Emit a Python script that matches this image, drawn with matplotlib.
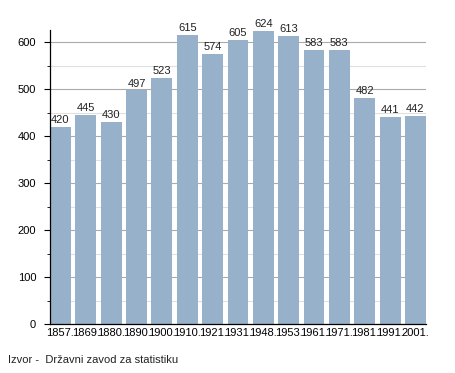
import matplotlib.pyplot as plt
from matplotlib.ticker import MultipleLocator

plt.rcParams['font.family'] = ['Liberation Sans', 'DejaVu Sans']

years = ["1857.", "1869.", "1880.", "1890.", "1900.", "1910.", "1921.", "1931.",
         "1948.", "1953.", "1961.", "1971.", "1981.", "1991.", "2001."]
population = [420, 445, 430, 497, 523, 615, 574, 605, 624, 613, 583, 583, 482, 441, 442]
source_text = "Izvor -  Državni zavod za statistiku"

fig = plt.figure(figsize=(4.55, 3.73), dpi=100)
ax = fig.add_axes([0.110, 0.131, 0.826, 0.789])

x = range(len(years))
ax.bar(x, population, width=0.82, color="#98b1cb", zorder=2)

for i, v in enumerate(population):
    ax.text(i, v + 4, str(v), ha="center", va="bottom", fontsize=8, color="#222222")

ax.set_ylim(0, 626)
ax.set_xlim(-0.41, 14.41)
ax.yaxis.set_major_locator(MultipleLocator(100))
ax.yaxis.set_minor_locator(MultipleLocator(50))
ax.grid(axis="y", which="major", color="#aaaaaa", linewidth=0.8, zorder=0)
ax.grid(axis="y", which="minor", color="#e0e0e0", linewidth=0.8, zorder=0)

ax.set_xticks(list(x))
ax.set_xticklabels(years, fontsize=8)
ax.tick_params(axis="x", length=0, pad=3)
ax.tick_params(axis="y", which="major", length=4, labelsize=8, pad=6)
ax.tick_params(axis="y", which="minor", length=2)

for side in ["top", "right"]:
    ax.spines[side].set_visible(False)
ax.spines["left"].set_linewidth(0.9)
ax.spines["bottom"].set_linewidth(0.9)

fig.text(0.018, 0.035, source_text, fontsize=8, ha="left", va="center", color="#222222")

fig.savefig("out.png", dpi=100)
